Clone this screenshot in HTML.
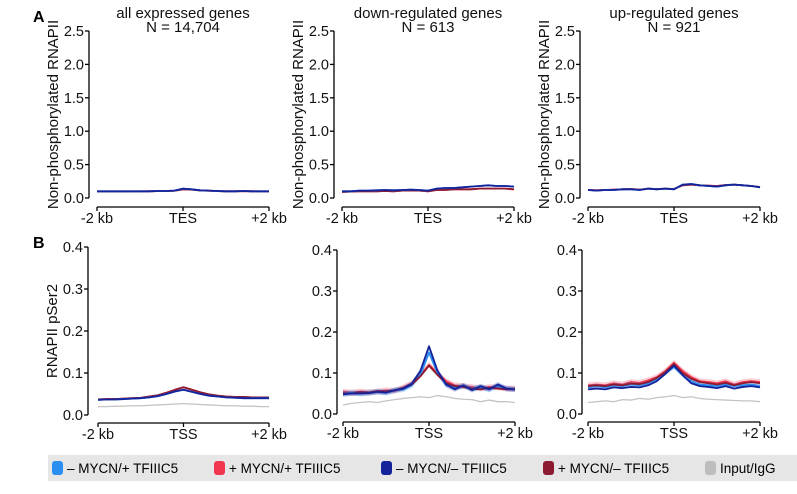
<!DOCTYPE html>
<html><head><meta charset="utf-8"><style>
body{margin:0;background:#fff;}
svg{display:block;font-family:"Liberation Sans",Arial,sans-serif;}
</style></head><body>
<svg id="chart" width="797" height="494" viewBox="0 0 797 494">
<text x="33" y="22" font-size="16" font-weight="bold">A</text>
<text x="33" y="248" font-size="16" font-weight="bold">B</text>
<g id="plots"></g>
<g>
<rect x="48" y="455" width="749" height="26" fill="#e6e6e6"/>
<g><rect x="52" y="461" width="11" height="14" rx="3" fill="#2b8ff2"/><text x="67" y="473" font-size="13.5">– MYCN/+ TFIIIC5</text></g>
<g><rect x="214" y="461" width="11" height="14" rx="3" fill="#f2364f"/><text x="229" y="473" font-size="13.5">+ MYCN/+ TFIIIC5</text></g>
<g><rect x="381" y="461" width="11" height="14" rx="3" fill="#14239a"/><text x="396" y="473" font-size="13.5">– MYCN/– TFIIIC5</text></g>
<g><rect x="543" y="461" width="11" height="14" rx="3" fill="#8c1a30"/><text x="558" y="473" font-size="13.5">+ MYCN/– TFIIIC5</text></g>
<g><rect x="705" y="461" width="11" height="14" rx="3" fill="#bdbdbd"/><text x="720" y="473" font-size="13.5">Input/IgG</text></g>
</g>
</svg>
<script>
const positions = [-2,-1.8,-1.6,-1.4,-1.2,-1,-0.8,-0.6,-0.4,-0.2,0,0.2,0.4,0.6,0.8,1,1.2,1.4,1.6,1.8,2];
const ticksA = [0,0.5,1.0,1.5,2.0,2.5];
const ticksB = [0,0.1,0.2,0.3,0.4];
const a1Main = [.10,.10,.10,.10,.10,.10,.10,.105,.105,.11,.14,.13,.115,.11,.105,.10,.10,.105,.10,.10,.10];
const a1Red  = [.098,.098,.098,.098,.099,.099,.10,.103,.104,.108,.13,.125,.112,.108,.104,.10,.10,.103,.10,.099,.099];
const a2Blue = [.10,.10,.11,.11,.115,.12,.115,.12,.125,.12,.11,.14,.15,.15,.16,.17,.18,.19,.18,.18,.17];
const a2Red  = [.09,.095,.10,.10,.10,.105,.10,.11,.11,.11,.10,.12,.12,.13,.13,.13,.14,.14,.14,.14,.13];
const a3Blue = [.12,.11,.12,.12,.13,.13,.12,.14,.13,.14,.13,.20,.21,.19,.18,.17,.19,.20,.19,.18,.16];
const a3Red  = [.12,.115,.12,.125,.13,.135,.125,.14,.135,.14,.135,.19,.20,.19,.185,.18,.195,.20,.19,.18,.165];
const b1Blue = [.036,.037,.037,.038,.039,.040,.042,.045,.050,.056,.060,.055,.050,.046,.044,.042,.041,.040,.040,.040,.040];
const b1Red  = [.037,.038,.038,.039,.040,.041,.044,.047,.053,.060,.066,.060,.054,.049,.046,.044,.043,.043,.042,.042,.042];
const b1Input= [.020,.020,.021,.021,.022,.022,.023,.024,.025,.026,.027,.026,.025,.024,.023,.022,.022,.021,.021,.020,.020];
const b2LBlue= [.050,.052,.050,.052,.055,.052,.058,.060,.070,.095,.150,.100,.070,.065,.068,.062,.065,.060,.068,.062,.060];
const b2Red  = [.055,.052,.055,.053,.055,.058,.056,.065,.075,.095,.120,.100,.080,.070,.068,.066,.062,.066,.065,.062,.062];
const b2DRed = [.050,.050,.053,.052,.056,.055,.058,.063,.072,.092,.118,.095,.075,.068,.066,.062,.060,.064,.062,.060,.060];
const b2DBlue= [.048,.050,.050,.051,.054,.052,.058,.062,.074,.105,.165,.105,.072,.060,.070,.058,.068,.060,.072,.062,.060];
const b2Input= [.022,.026,.028,.030,.028,.032,.035,.038,.040,.042,.040,.045,.042,.038,.036,.035,.030,.034,.030,.030,.028];
const b3LBlue= [.065,.068,.065,.070,.068,.072,.070,.075,.085,.100,.115,.095,.080,.072,.070,.068,.072,.068,.070,.072,.068];
const b3Red  = [.070,.072,.070,.075,.072,.078,.076,.082,.090,.105,.125,.105,.090,.080,.078,.075,.080,.072,.078,.080,.078];
const b3DRed = [.068,.070,.068,.072,.070,.074,.073,.078,.088,.102,.122,.100,.086,.078,.075,.072,.076,.070,.075,.078,.075];
const b3DBlue= [.060,.062,.060,.065,.063,.066,.065,.070,.080,.098,.118,.095,.075,.068,.066,.063,.068,.062,.066,.068,.065];
const b3Input= [.028,.030,.032,.030,.035,.034,.038,.036,.040,.042,.045,.040,.042,.038,.036,.035,.034,.033,.032,.032,.030];

const C = {lb:'#2b8ff2', red:'#f2364f', db:'#14239a', dr:'#8c1a30', gr:'#c4c4c4'};
const NS='http://www.w3.org/2000/svg';
const root=document.getElementById('plots');
function mk(tag,attrs,parent){const e=document.createElementNS(NS,tag);for(const k in attrs)e.setAttribute(k,attrs[k]);(parent||root).appendChild(e);return e;}

function panel(p){
  const g=mk('g',{});
  
  
  const xs=v=>p.x0+(v+2)/4*(p.x1-p.x0);
  const ys=v=>p.yb-v/p.ymax*(p.yb-p.yt);
  const ya=mk('line',{x1:p.ax,x2:p.ax,y1:ys(0),y2:ys(p.ymax),stroke:'#000','stroke-width':1.3},g);
  
  
  p.ticks.forEach(t=>{
    mk('line',{x1:p.ax-4,x2:p.ax,y1:ys(t),y2:ys(t),stroke:'#000','stroke-width':1.3},g);
    const tx=mk('text',{x:p.ax-5,y:ys(t)+5,'font-size':14.5,'text-anchor':'end',fill:'#111'},g);
    tx.textContent=t.toFixed(1);
    
    
  });
  const xa=mk('line',{x1:p.x0,x2:p.x1,y1:p.xay,y2:p.xay,stroke:'#000','stroke-width':1.3},g);
  
  
  [[-2,'-2 kb'],[0,p.mid],[2,'+2 kb']].forEach(([v,l])=>{
    mk('line',{x1:xs(v),x2:xs(v),y1:p.xay,y2:p.xay+4,stroke:'#000','stroke-width':1.3},g);
    const tx=mk('text',{x:xs(v),y:p.xay+16,'font-size':14.5,'text-anchor':'middle',fill:'#111'},g);
    tx.textContent=l;
    
    
  });
  if(p.ylabel){
    const cy=(ys(0)+ys(p.ymax))/2;
    const lx=p.ax-31;
    const tx=mk('text',{x:lx,y:cy,'font-size':15,'text-anchor':'middle',transform:`rotate(-90 ${lx} ${cy})`,fill:'#111'},g);
    tx.textContent=p.ylabel;
    
    
  }
  if(p.title){
    p.title.forEach((l,i)=>{
      const tx=mk('text',{x:(p.x0+p.x1)/2,y:18+i*14,'font-size':15,'text-anchor':'middle',fill:'#111'},g);
      tx.textContent=l;
      
      
    });
  }
  p.series.forEach(s=>{
    const err=s.err||0;
    if(err>0){
      let d='M'+s.v.map((v,i)=>xs(positions[i])+','+ys(v+err)).join('L');
      d+='L'+s.v.map((v,i)=>[xs(positions[i]),ys(v-err)]).reverse().map(a=>a.join(',')).join('L')+'Z';
      const b=mk('path',{d,fill:s.c,'fill-opacity':0.25,stroke:'none'},g);
      
      
    }
    const ln=mk('polyline',{points:s.v.map((v,i)=>xs(positions[i])+','+ys(v)).join(' '),fill:'none',stroke:s.c,'stroke-width':s.w||1.8,'stroke-linejoin':'round'},g);
    
    
  });
}
panel({name:'panel-a-all-genes',ax:89,x0:97,x1:269,yt:31,yb:198,xay:207,ymax:2.5,ticks:ticksA,mid:'TES',ylabel:'Non-phosphorylated RNAPII',title:['all expressed genes','N = 14,704'],
  series:[{v:a1Red,c:C.red,n:'line-plus-mycn',err:.01},{v:a1Red,c:C.dr,n:'line-plus-mycn-minus-tfiiic5'},{v:a1Main,c:C.lb,n:'line-minus-mycn',err:.01},{v:a1Main,c:C.db,n:'line-minus-mycn-minus-tfiiic5'}]});
panel({name:'panel-a-down-genes',ax:334,x0:342,x1:514,yt:31,yb:198,xay:207,ymax:2.5,ticks:ticksA,mid:'TES',ylabel:'Non-phosphorylated RNAPII',title:['down-regulated genes','N = 613'],
  series:[{v:a2Red,c:C.red,n:'line-plus-mycn',err:.01},{v:a2Red,c:C.dr,n:'line-plus-mycn-minus-tfiiic5'},{v:a2Blue,c:C.lb,n:'line-minus-mycn',err:.01},{v:a2Blue,c:C.db,n:'line-minus-mycn-minus-tfiiic5'}]});
panel({name:'panel-a-up-genes',ax:580,x0:588,x1:760,yt:31,yb:198,xay:207,ymax:2.5,ticks:ticksA,mid:'TES',ylabel:'Non-phosphorylated RNAPII',title:['up-regulated genes','N = 921'],
  series:[{v:a3Red,c:C.red,n:'line-plus-mycn',err:.012},{v:a3Red,c:C.dr,n:'line-plus-mycn-minus-tfiiic5'},{v:a3Blue,c:C.lb,n:'line-minus-mycn',err:.012},{v:a3Blue,c:C.db,n:'line-minus-mycn-minus-tfiiic5'}]});
panel({name:'panel-b-all-genes',ax:88,x0:98,x1:269,yt:247,yb:415,xay:423,ymax:0.4,ticks:ticksB,mid:'TSS',ylabel:'RNAPII pSer2',
  series:[{v:b1Input,c:C.gr,n:'line-input-igg',w:1.3},{v:b1Red,c:C.red,n:'line-plus-mycn-plus-tfiiic5',err:.002},{v:b1Red,c:C.dr,n:'line-plus-mycn-minus-tfiiic5'},{v:b1Blue,c:C.lb,n:'line-minus-mycn-plus-tfiiic5',err:.002},{v:b1Blue,c:C.db,n:'line-minus-mycn-minus-tfiiic5'}]});
panel({name:'panel-b-down-genes',ax:337,x0:343,x1:515,yt:250,yb:414,xay:422,ymax:0.4,ticks:ticksB,mid:'TSS',
  series:[{v:b2Input,c:C.gr,n:'line-input-igg',w:1.3},{v:b2Red,c:C.red,n:'line-plus-mycn-plus-tfiiic5',err:.007},{v:b2LBlue,c:C.lb,n:'line-minus-mycn-plus-tfiiic5',err:.007},{v:b2DRed,c:C.dr,n:'line-plus-mycn-minus-tfiiic5'},{v:b2DBlue,c:C.db,n:'line-minus-mycn-minus-tfiiic5',err:.006}]});
panel({name:'panel-b-up-genes',ax:582,x0:588,x1:760,yt:250,yb:414,xay:422,ymax:0.4,ticks:ticksB,mid:'TSS',
  series:[{v:b3Input,c:C.gr,n:'line-input-igg',w:1.3},{v:b3Red,c:C.red,n:'line-plus-mycn-plus-tfiiic5',err:.007},{v:b3LBlue,c:C.lb,n:'line-minus-mycn-plus-tfiiic5',err:.006},{v:b3DRed,c:C.dr,n:'line-plus-mycn-minus-tfiiic5'},{v:b3DBlue,c:C.db,n:'line-minus-mycn-minus-tfiiic5'}]});
</script>
</body></html>
